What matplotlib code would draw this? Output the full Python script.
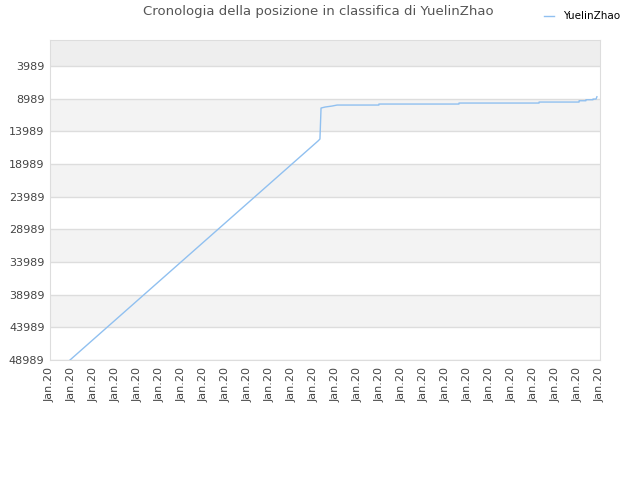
import matplotlib
matplotlib.use("Agg")
import matplotlib.pyplot as plt

# rank history (x = position along the date axis, in tick steps)
dates = [0.91, 12.18, 12.27, 12.32, 12.5, 12.82, 13.05, 14.95, 14.95, 18.59, 18.59,
         22.23, 22.23, 24.05, 24.05, 24.36, 24.36, 24.68, 24.68, 24.82, 24.86]
ranks = [48989, 15469, 15162, 10417, 10264, 10111, 9958, 9958, 9805, 9805, 9652,
         9652, 9499, 9499, 9300, 9300, 9147, 9147, 9040, 9040, 8688]

y_ticks = [3989, 8989, 13989, 18989, 23989, 28989, 33989, 38989, 43989, 48989]
x_labels = ["Jan.20"] * 26

fig = plt.figure(figsize=(6.4, 4.8), dpi=100)
ax = fig.add_axes([50 / 640, 1 - 360 / 480, 550 / 640, 320 / 480])

ax.set_xlim(0, 25)
ax.set_ylim(48989, 0)

# alternating bands
ax.axhspan(0, y_ticks[0], color="#eeeeee", zorder=0, lw=0)
for i in range(len(y_ticks) - 1):
    if i % 2 == 1:
        ax.axhspan(y_ticks[i], y_ticks[i + 1], color="#f3f3f3", zorder=0, lw=0)
for t in y_ticks:
    ax.axhline(t, color="#dddddd", lw=1, zorder=1)

ax.plot(dates, ranks, color="#90c0f0", lw=1, label="YuelinZhao", zorder=3)

ax.set_yticks(y_ticks)
ax.set_yticklabels([str(t) for t in y_ticks])
ax.set_xticks(range(26))
ax.set_xticklabels(x_labels, rotation=90)
ax.tick_params(axis="both", labelsize=8, colors="#444444", length=0, pad=4)
ax.tick_params(axis="x", pad=5)

for s in ax.spines.values():
    s.set_color("#dddddd")

fig.text(318 / 640, 1 - 12 / 480, "Cronologia della posizione in classifica di YuelinZhao",
         ha="center", va="center", fontsize=9.5, color="#555555")

ax.legend(loc="upper right", bbox_to_anchor=(630 / 640, 1 - 2 / 480),
          bbox_transform=fig.transFigure, frameon=False, fontsize=7.5,
          handlelength=1.0, handletextpad=0.9)

fig.savefig("out.png", dpi=100)
